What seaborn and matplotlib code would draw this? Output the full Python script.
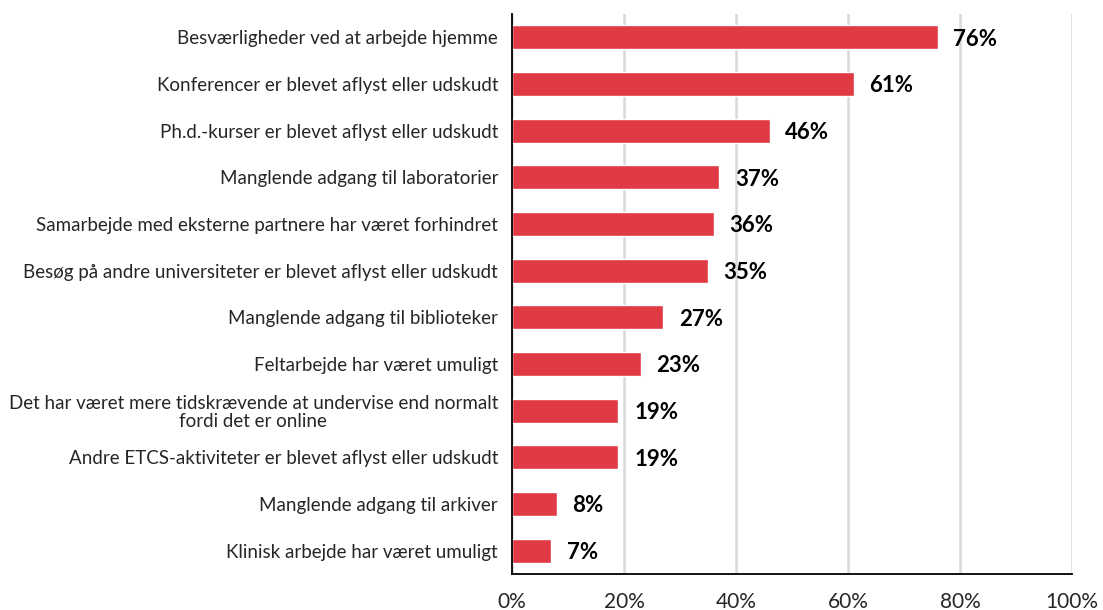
import numpy as np
import pandas as pd
import matplotlib.pyplot as plt
import seaborn as sns

labels = [
    'Besværligheder ved at arbejde hjemme',
    'Konferencer er blevet aflyst eller udskudt',
    'Ph.d.-kurser er blevet aflyst eller udskudt',
    'Manglende adgang til laboratorier',
    'Samarbejde med eksterne partnere har været forhindret',
    'Besøg på andre universiteter er blevet aflyst eller udskudt',
    'Manglende adgang til biblioteker',
    'Feltarbejde har været umuligt',
    'Det har været mere tidskrævende at undervise end normalt\nfordi det er online',
    'Andre ETCS-aktiviteter er blevet aflyst eller udskudt',
    'Manglende adgang til arkiver',
    'Klinisk arbejde har været umuligt',
]
values = [76, 61, 46, 37, 36, 35, 27, 23, 19, 19, 8, 7]

df = pd.DataFrame({'label': labels, 'value': values})

sns.set_style('white')
plt.rcParams['font.family'] = ['Lato', 'DejaVu Sans']

fig = plt.figure(figsize=(11.03, 6.10), dpi=100)
ax = fig.add_axes([512/1103, 36/610, 560/1103, 560/610])
sns.barplot(data=df, x='value', y='label', color='#E03A45', width=0.52,
            saturation=1, ax=ax, zorder=3)

ax.set_xlim(0, 100)
ax.set_xticks([0, 20, 40, 60, 80, 100])
ax.set_xticklabels([f'{t}%' for t in [0, 20, 40, 60, 80, 100]], fontsize=15)
ax.tick_params(axis='x', length=0, pad=13)
ax.tick_params(axis='y', length=0, pad=10, labelsize=13.5)
for t in ax.get_yticklabels():
    t.set_multialignment('center')
    t.set_linespacing(1.05)
ax.set_xlabel('')
ax.set_ylabel('')
ax.grid(axis='x', color='#d9d9d9', lw=1.8, zorder=0)
for s in ['top', 'right']:
    ax.spines[s].set_visible(False)
for s in ['left', 'bottom']:
    ax.spines[s].set_color('black')
    ax.spines[s].set_linewidth(1.3)
    ax.spines[s].set_zorder(4)

for i, v in enumerate(values):
    ax.text(v + 2.8, i + 0.04, f'{v}%', va='center', ha='left', fontsize=16,
            fontweight='bold', color='black')

fig.savefig('out.png', dpi=100)
